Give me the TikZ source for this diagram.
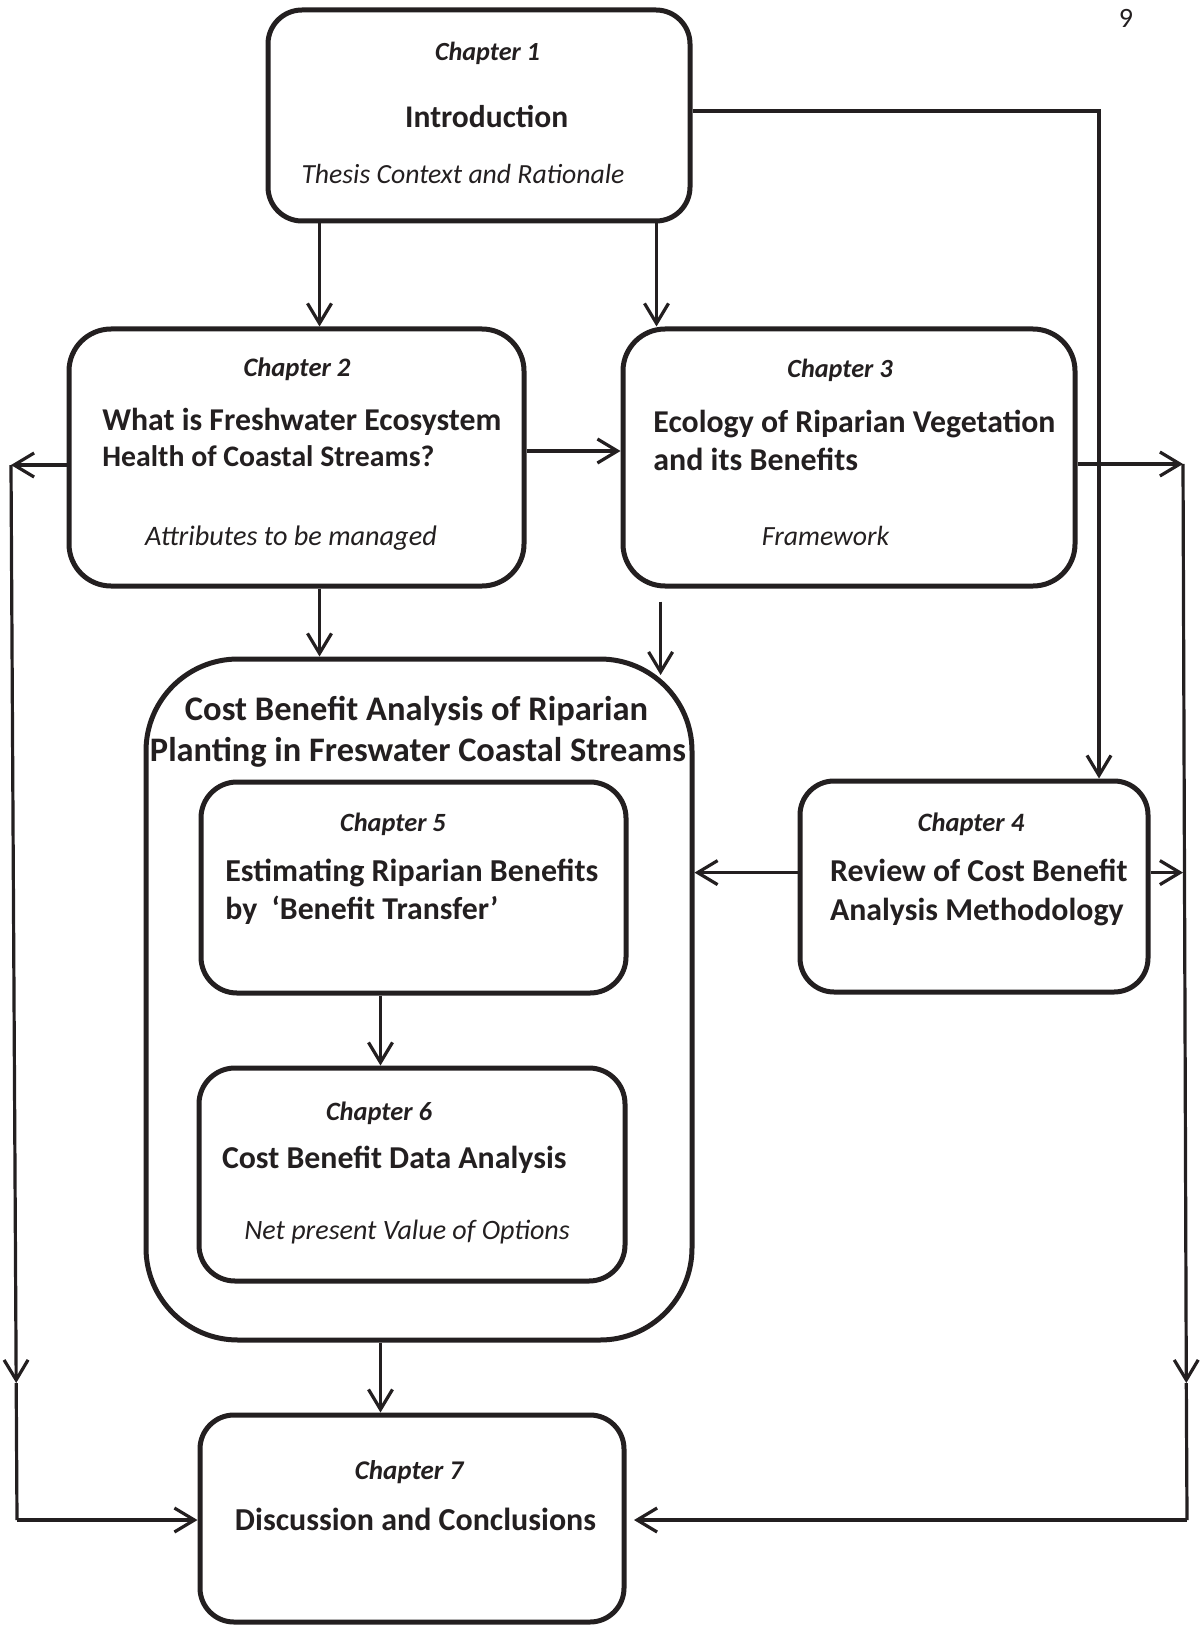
\documentclass[tikz,border=0pt]{standalone}
\usepackage{fontspec}
\setmainfont{Carlito}
\usepackage{graphicx}
\usetikzlibrary{arrows.meta,fit,calc}
\definecolor{ink}{RGB}{35,31,32}
\tikzset{
  box/.style={draw=ink, line width=2.5pt, inner sep=0pt},
  arr/.style={draw=ink, line width=1.6pt, -{Straight Barb[length=10pt,width=12pt]}},
  ln/.style={draw=ink, line width=1.6pt},
  txt/.style={inner sep=0pt, anchor=base, text=ink},
  txtl/.style={inner sep=0pt, anchor=base west, text=ink},
}
\newcommand\rz[2]{\resizebox{#1pt}{!}{#2}}
\begin{document}
\begin{tikzpicture}[x=0.5pt,y=-0.5pt]
\useasboundingbox (0,0) rectangle (1201,1626);

% boxes
\node[box, rounded corners=17pt, fit={(268,10)(690,221)}] (c1) {};
\node[box, rounded corners=21pt, fit={(69,329)(524,586)}] (c2) {};
\node[box, rounded corners=21pt, fit={(623,329)(1075,586)}] (c3) {};
\node[box, rounded corners=46pt, fit={(146,659)(692,1340)}] (big) {};
\node[box, rounded corners=17pt, fit={(800,781)(1148,992)}] (c4) {};
\node[box, rounded corners=18pt, fit={(201,782)(626,993)}] (c5) {};
\node[box, rounded corners=18pt, fit={(199,1068)(625,1281)}] (c6) {};
\node[box, rounded corners=17pt, fit={(200,1415)(624,1622)}] (c7) {};

% texts
\node[txt] (pg) at (1126,28) {\fontsize{14}{16}\selectfont 9};

\node[txt] (t1a) at (487.5,60.7) {\rz{52.5}{\bfseries\itshape Chapter 1}};
\node[txt] (t1b) at (486.7,127.3) {\rz{81.5}{\bfseries Introduction}};
\node[txt] (t1c) at (463,183.3) {\rz{161.5}{\itshape Thesis Context and Rationale}};

\node[txt] (t2a) at (297,377) {\rz{53.5}{\bfseries\itshape Chapter 2}};
\node[txtl] (t2b) at (102,430) {\rz{199.5}{\bfseries What is Freshwater Ecosystem}};
\node[txtl] (t2c) at (102,466) {\rz{166}{\bfseries Health of Coastal Streams?}};
\node[txt] (t2d) at (291,545) {\rz{145.8}{\itshape Attributes to be managed}};

\node[txt] (t3a) at (840,377) {\rz{52.6}{\bfseries\itshape Chapter 3}};
\node[txtl] (t3b) at (653,432) {\rz{201}{\bfseries Ecology of Riparian Vegetation}};
\node[txtl] (t3c) at (653,470) {\rz{102.3}{\bfseries and its Benefits}};
\node[txt] (t3d) at (825.6,545) {\rz{63.7}{\itshape Framework}};

\node[txt] (t4a) at (971,831) {\rz{53.2}{\bfseries\itshape Chapter 4}};
\node[txtl] (t4b) at (829.6,881) {\rz{148.75}{\bfseries Review of Cost Benefit}};
\node[txtl] (t4c) at (829.6,920) {\rz{146.75}{\bfseries Analysis Methodology}};

\node[txt] (tba) at (416.5,720) {\rz{231.5}{\bfseries Cost Benefit Analysis of Riparian}};
\node[txt] (tbb) at (418,761.4) {\rz{268}{\bfseries Planting in Freswater Coastal Streams}};

\node[txt] (t5a) at (393,831) {\rz{52.8}{\bfseries\itshape Chapter 5}};
\node[txtl] (t5b) at (225,881) {\rz{186.5}{\bfseries Estimating Riparian Benefits}};
\node[txtl] (t5c) at (225,919) {\rz{136.5}{\bfseries by\ \ ‘Benefit Transfer’}};

\node[txt] (t6a) at (379,1120) {\rz{53}{\bfseries\itshape Chapter 6}};
\node[txtl] (t6b) at (221.6,1168) {\rz{172.2}{\bfseries Cost Benefit Data Analysis}};
\node[txt] (t6c) at (407,1239.5) {\rz{162.75}{\itshape Net present Value of Options}};

\node[txt] (t7a) at (409,1479) {\rz{54.2}{\bfseries\itshape Chapter 7}};
\node[txt] (t7b) at (415.5,1530) {\rz{180.5}{\bfseries Discussion and Conclusions}};

% helper coordinates
\coordinate (xa) at (319.5,0);
\coordinate (xb) at (656.5,0);
\coordinate (xc) at (380.5,0);
\coordinate (ya) at (0,451);
\coordinate (yb) at (0,872.6);
\coordinate (s3) at (660.6,601.5);
\coordinate (e3) at (660.6,675);
\coordinate (r1) at (1099,111);
\coordinate (L1) at (11,465);
\coordinate (Lm) at (16.2,1383);
\coordinate (L2) at (17,1520);
\coordinate (R1) at (1183,464);
\coordinate (Rm) at (1186.3,1383);
\coordinate (R2) at (1187,1520);
\coordinate (R4) at (1183,872.6);
\coordinate (e7) at (634,1520);

% connectors
\draw[arr] (c1.south -| xa) -- (c2.north -| xa);
\draw[arr] (c1.south -| xb) -- (c3.north -| xb);
\draw[arr] (c1.east |- r1) -- (r1) -- (c4.north -| r1);
\draw[arr] (c2.east |- ya) -- (c3.west |- ya);
\draw[arr] (c2.south -| xa) -- (big.north -| xa);
\draw[arr] (s3) -- (e3);
\draw[arr] (c2.west |- L1) -- (L1);
\draw[arr] (L1) -- (Lm);
\draw[ln] (Lm) -- (L2);
\draw[arr] (L2) -- (c7.west |- L2);
\draw[arr] (c3.east |- R1) -- (R1);
\draw[arr] (R1) -- (Rm);
\draw[ln] (Rm) -- (R2);
\draw[arr] (R2) -- (e7);
\draw[arr] (c4.east |- yb) -- (R4);
\draw[arr] (c4.west |- yb) -- (big.east |- yb);
\draw[arr] (c5.south -| xc) -- (c6.north -| xc);
\draw[arr] (big.south -| xc) -- (c7.north -| xc);
\end{tikzpicture}
\end{document}
